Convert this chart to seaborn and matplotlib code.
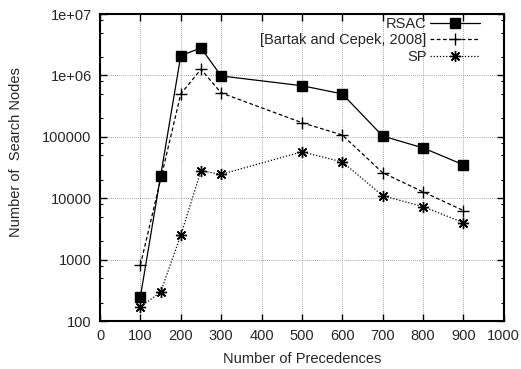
import matplotlib
matplotlib.use("Agg")
import matplotlib.pyplot as plt
from matplotlib.ticker import FixedLocator, FixedFormatter, LogLocator, NullFormatter
import pandas as pd
import seaborn as sns

# données
precedences = [100, 150, 200, 250, 300, 500, 600, 700, 800, 900]
rsac = [250, 23000, 2100000, 2800000, 980000, 680000, 500000, 103000, 66000, 35000]
bartak = [820, None, 500000, 1260000, 520000, 170000, 107000, 26000, 12700, 6300]
sp = [170, 295, 2500, 28000, 24500, 57000, 39000, 11000, 7300, 4000]

series_names = ["RSAC", "[Bartak and Cepek, 2008]", "SP"]
y_ticks = [100, 1000, 10000, 100000, 1000000, 10000000]
y_labels = ["100", "1000", "10000", "100000", "1e+06", "1e+07"]
x_ticks = list(range(0, 1001, 100))

df = pd.DataFrame({"x": precedences, "RSAC": rsac,
                   "[Bartak and Cepek, 2008]": bartak, "SP": sp})
long = df.melt(id_vars="x", var_name="serie", value_name="y").dropna()

sns.set_style("ticks")
plt.rcParams["font.family"] = ["Liberation Sans", "DejaVu Sans"]
plt.rcParams["font.size"] = 10.5

fig = plt.figure(figsize=(5.21, 3.69), dpi=100)
ax = fig.add_axes([0.192, 0.130, 0.775, 0.832])

styles = {
    "RSAC": dict(marker="s", markersize=7, linestyle="-"),
    "[Bartak and Cepek, 2008]": dict(marker="+", markersize=8, linestyle=(0, (3, 2))),
    "SP": dict(marker=(8, 2, 0), markersize=8, linestyle=(0, (1, 1.5))),
}
for name in series_names:
    st = styles[name]
    sns.lineplot(data=long[long["serie"] == name], x="x", y="y", ax=ax,
                 color="black", linewidth=0.9, marker=st["marker"],
                 markersize=st["markersize"], linestyle=st["linestyle"],
                 markeredgecolor="black", markeredgewidth=1.0, label=name)

ax.set_yscale("log")
ax.set_xlim(0, 1000)
ax.set_ylim(100, 10000000)
ax.yaxis.set_major_locator(FixedLocator(y_ticks))
ax.yaxis.set_major_formatter(FixedFormatter(y_labels))
ax.yaxis.set_minor_locator(LogLocator(base=10, subs=(2, 5, 8)))
ax.yaxis.set_minor_formatter(NullFormatter())
ax.set_xticks(x_ticks)

ax.grid(True, which="major", color="#888888", linestyle=(0, (1, 1.5)), linewidth=0.6)
ax.tick_params(which="both", direction="in", top=True, right=True, color="black")
ax.tick_params(which="major", length=5, width=1.0, pad=6)
ax.tick_params(which="minor", length=2.5, width=0.8)
for s in ax.spines.values():
    s.set_linewidth(1.5)
    s.set_color("black")

ax.set_xlabel("Number of Precedences", labelpad=6)
ax.set_ylabel("Number of  Search Nodes")
ax.yaxis.set_label_coords(-0.19, 0.55)

ax.legend(loc="upper right", bbox_to_anchor=(0.962, 1.018), frameon=False,
          markerfirst=False, handlelength=3.4, handletextpad=0.25,
          labelspacing=0.15, borderaxespad=0.2)

plt.savefig("out.png", dpi=100)
